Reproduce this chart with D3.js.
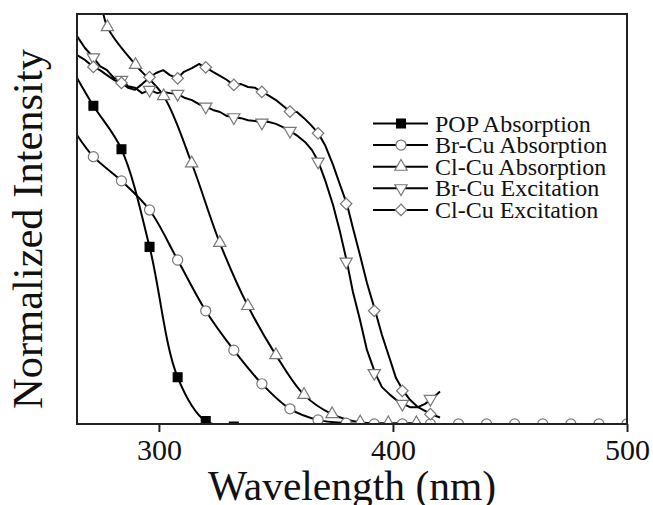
<!DOCTYPE html>
<html>
<head>
<meta charset="utf-8">
<script src="https://cdn.jsdelivr.net/npm/d3@7"></script>
<style>
  body { margin: 0; background: #fff; }
  svg { display: block; font-family: "Liberation Serif", "Times New Roman", serif; }
</style>
</head>
<body>
<svg></svg>
<script>
//size of the picture and the plot box
let width = 653
let height = 505
let plotLeft = 77, plotRight = 627, plotTop = 14, plotBottom = 424

//tick labels and series names
const xTicks = [300, 400, 500]
const names = ['POP Absorption', 'Br-Cu Absorption', 'Cl-Cu Absorption', 'Br-Cu Excitation', 'Cl-Cu Excitation']

//POP absorption (wavelength nm, normalized intensity)
const popLine = [[265, 0.844], [272, 0.776], [284, 0.670], [296, 0.432], [308, 0.114], [320, 0.007], [332, -0.006], [340, -0.004]]
const popMarks = [[272, 0.776], [284, 0.670], [296, 0.432], [308, 0.114], [320, 0.007], [332, -0.006]]

//Br-Cu absorption
const brAbsLine = [[265, 0.705], [272, 0.652], [284, 0.593], [296, 0.522], [308, 0.400], [320, 0.276], [332, 0.180],
  [344, 0.098], [356, 0.037], [368, 0.010], [380, 0.002], [392, 0], [404, 0], [416, 0], [428, 0], [440, 0],
  [452, 0], [464, 0], [476, 0], [488, 0], [500, 0]]
const brAbsMarks = brAbsLine.slice(1)

//Cl-Cu absorption
const clAbsLine = [[275.3, 1.034], [278, 0.968], [290, 0.876], [302, 0.800], [314, 0.636], [326, 0.442], [338, 0.288],
  [350, 0.168], [362, 0.071], [374, 0.024], [386, 0.004], [398, 0.002], [410, 0.002], [412, 0.002]]
const clAbsMarks = clAbsLine.slice(1, -1)

//Br-Cu excitation
const brExcLine = [[265, 0.946], [268.4, 0.917], [272, 0.894], [274.8, 0.873], [277.8, 0.863], [280.8, 0.844],
  [284.1, 0.839], [286.8, 0.824], [289.8, 0.820], [292.8, 0.807], [296.2, 0.815], [299.2, 0.807], [301.8, 0.810],
  [304.7, 0.807], [307.9, 0.805], [311.2, 0.795], [314.1, 0.790], [317.1, 0.780], [320, 0.774], [323.1, 0.766],
  [326.1, 0.761], [329.1, 0.751], [331.8, 0.748], [335.1, 0.746], [338.1, 0.741], [341.1, 0.739], [343.9, 0.735],
  [346.6, 0.737], [350, 0.732], [353, 0.724], [356, 0.715], [359.4, 0.702], [362.4, 0.688], [365.4, 0.668],
  [368.1, 0.640], [371, 0.595], [374.4, 0.534], [377.4, 0.468], [380.3, 0.396], [382.9, 0.322], [385.9, 0.254],
  [388.9, 0.180], [392.4, 0.124], [395.3, 0.090], [398.8, 0.071], [401.3, 0.059], [404.4, 0.049], [407.3, 0.041],
  [410.7, 0.041], [413.7, 0.049], [416.6, 0.061], [420.1, 0.079]]
const brExcMarks = [[272, 0.894], [284, 0.839], [296, 0.815], [308, 0.805], [320, 0.774], [332, 0.748], [344, 0.735],
  [356, 0.715], [368, 0.640], [380, 0.396], [392, 0.124], [404, 0.049], [416, 0.061]]

//Cl-Cu excitation
const clExcLine = [[265, 0.900], [268.4, 0.888], [272, 0.871], [274.8, 0.863], [277.8, 0.851], [280.8, 0.839],
  [284.1, 0.832], [286.8, 0.820], [289.8, 0.815], [292.8, 0.829], [296.2, 0.846], [298.8, 0.856], [301.8, 0.863],
  [304.7, 0.851], [307.9, 0.843], [310.7, 0.859], [314.1, 0.868], [317.1, 0.878], [320, 0.870], [323.1, 0.859],
  [326.1, 0.849], [329.1, 0.839], [331.8, 0.827], [335.1, 0.829], [338.1, 0.822], [341.1, 0.820], [343.9, 0.810],
  [346.6, 0.802], [350, 0.790], [353, 0.776], [356, 0.762], [359, 0.761], [362, 0.746], [365, 0.729], [368.1, 0.709],
  [371, 0.680], [374.4, 0.632], [377.4, 0.583], [380.3, 0.537], [382.9, 0.478], [385.9, 0.412], [388.9, 0.344],
  [392.4, 0.276], [395.3, 0.217], [398.8, 0.156], [401.3, 0.112], [404.4, 0.081], [407.3, 0.059], [410.7, 0.041],
  [413.7, 0.032], [416.3, 0.024], [420.1, 0.016]]
const clExcMarks = [[272, 0.871], [284, 0.832], [296, 0.846], [308, 0.843], [320, 0.870], [332, 0.827], [344, 0.810],
  [356, 0.762], [368, 0.709], [380, 0.537], [392, 0.276], [404, 0.081], [416, 0.024]]

let svg = d3.select('svg').attr('width', width).attr('height', height)

//scales
let xScale = d3.scaleLinear().domain([265, 500]).range([plotLeft, plotRight])
let yScale = d3.scaleLinear().domain([0, 1]).range([plotBottom, plotTop])

//marker shapes
let markStyle = [
  { type: d3.symbolSquare, size: 78, rot: 0, fill: '#000', stroke: '#000' },
  { type: d3.symbolCircle, size: 80, rot: 0, fill: '#fff', stroke: '#777' },
  { type: d3.symbolTriangle, size: 66, rot: 0, fill: '#fff', stroke: '#777' },
  { type: d3.symbolTriangle, size: 66, rot: 180, fill: '#fff', stroke: '#777' },
  { type: d3.symbolSquare, size: 66, rot: 45, fill: '#fff', stroke: '#777' }
]

let series = [
  { line: popLine, marks: popMarks, curve: d3.curveCatmullRom },
  { line: brAbsLine, marks: brAbsMarks, curve: d3.curveCatmullRom },
  { line: clAbsLine, marks: clAbsMarks, curve: d3.curveCatmullRom },
  { line: brExcLine, marks: brExcMarks, curve: d3.curveLinear },
  { line: clExcLine, marks: clExcMarks, curve: d3.curveLinear }
]

svg.append('clipPath').attr('id', 'plotClip')
  .append('rect')
  .attr('x', plotLeft).attr('y', plotTop)
  .attr('width', plotRight - plotLeft).attr('height', plotBottom - plotTop)

let plot = svg.append('g').attr('clip-path', 'url(#plotClip)')

//lines first, then markers on top
series.forEach(s => {
  let lineGen = d3.line()
    .x(d => xScale(d[0]))
    .y(d => yScale(d[1]))
    .curve(s.curve)
  plot.append('path')
    .datum(s.line)
    .attr('d', lineGen)
    .attr('fill', 'none')
    .attr('stroke', '#000')
    .attr('stroke-width', 2)
    .attr('stroke-linejoin', 'round')
})

series.forEach((s, i) => {
  let m = markStyle[i]
  plot.selectAll('.mark' + i)
    .data(s.marks)
    .enter()
    .append('path')
    .attr('class', 'mark' + i)
    .attr('d', d3.symbol().type(m.type).size(m.size))
    .attr('transform', d => 'translate(' + xScale(d[0]) + ',' + yScale(d[1]) + ') rotate(' + m.rot + ')')
    .attr('fill', m.fill)
    .attr('stroke', m.stroke)
    .attr('stroke-width', 1.2)
})

//frame
svg.append('rect')
  .attr('x', plotLeft).attr('y', plotTop)
  .attr('width', plotRight - plotLeft).attr('height', plotBottom - plotTop)
  .attr('fill', 'none')
  .attr('stroke', '#222')
  .attr('stroke-width', 2)

//x axis
let xAxis = d3.axisBottom(xScale).tickValues(xTicks).tickSize(8).tickSizeOuter(0).tickFormat(d3.format('d'))
let gx = svg.append('g')
  .attr('transform', 'translate(0,' + plotBottom + ')')
  .call(xAxis)
gx.select('.domain').remove()
gx.selectAll('line').attr('stroke', '#222').attr('stroke-width', 2)
gx.selectAll('text')
  .attr('y', 36).attr('dy', 0)
  .attr('fill', '#111')
  .style('font-size', '30px')
  .style('font-family', '"Liberation Serif", "Times New Roman", serif')

//axis titles
svg.append('text')
  .attr('x', (plotLeft + plotRight) / 2).attr('y', 500)
  .attr('text-anchor', 'middle')
  .style('font-size', '41.5px')
  .attr('fill', '#111')
  .text('Wavelength (nm)')

svg.append('text')
  .attr('transform', 'translate(42,229) rotate(-90)')
  .attr('text-anchor', 'middle')
  .style('font-size', '42.5px')
  .attr('fill', '#111')
  .text('Normalized Intensity')

//legend
let legend = svg.append('g')
names.forEach((n, i) => {
  let cy = 123.5 + i * 21.6
  let m = markStyle[i]
  legend.append('line')
    .attr('x1', 373).attr('x2', 428)
    .attr('y1', cy).attr('y2', cy)
    .attr('stroke', '#000').attr('stroke-width', 2)
  legend.append('path')
    .attr('d', d3.symbol().type(m.type).size(m.size))
    .attr('transform', 'translate(401,' + cy + ') rotate(' + m.rot + ')')
    .attr('fill', m.fill)
    .attr('stroke', m.stroke)
    .attr('stroke-width', 1.2)
  legend.append('text')
    .attr('x', 435).attr('y', cy + 8)
    .style('font-size', '24px')
    .attr('fill', '#111')
    .text(n)
})
</script>
</body>
</html>
